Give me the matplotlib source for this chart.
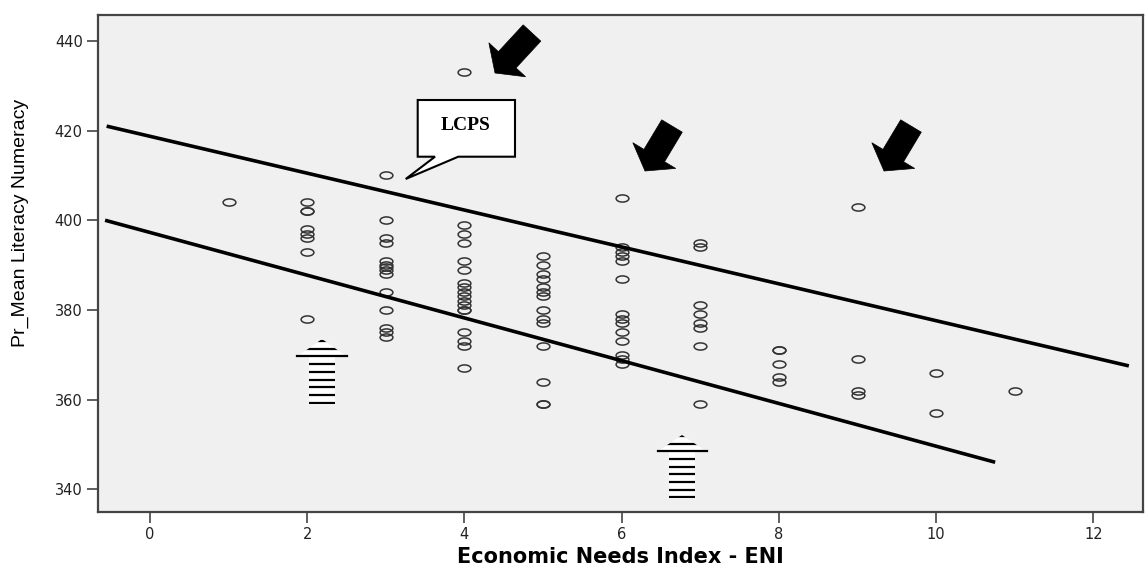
import matplotlib
matplotlib.use("Agg")
import matplotlib.pyplot as plt
import numpy as np
from matplotlib.path import Path
from matplotlib.transforms import Affine2D
from matplotlib.patches import Polygon
from matplotlib.lines import Line2D

# ---------------- data ----------------
eni = ([1]
       + [2] * 8
       + [3] * 14
       + [4] * 18
       + [5] * 14
       + [6] * 14
       + [7] * 8
       + [8] * 5
       + [9] * 4
       + [10] * 2
       + [11])
literacy = [404,
            404, 402, 402, 398, 397, 396, 393, 378,
            410, 400, 396, 395, 391, 390, 389.5, 389, 388, 384, 380, 376, 375, 374,
            433, 399, 397, 395, 391, 389, 386, 385, 384, 383, 382, 381, 380, 380, 375, 373, 372, 367,
            392, 390, 388, 387, 385, 384, 383, 380, 378, 377, 372, 364, 359, 359,
            405, 394, 393, 392, 391, 387, 379, 378, 377, 375, 373, 370, 369, 368,
            395, 394, 381, 379, 377, 376, 372, 359,
            371, 371, 368, 365, 364,
            403, 369, 362, 361,
            366, 357,
            362]

upper_line_x = [-0.55, 12.45]
upper_line_y = [421.0, 367.5]
lower_line_x = [-0.57, 10.75]
lower_line_y = [400.0, 346.0]

x_ticks = [0, 2, 4, 6, 8, 10, 12]
y_ticks = [340, 360, 380, 400, 420, 440]
x_label = "Economic Needs Index - ENI"
y_label = "Pr_Mean Literacy Numeracy"
callout_text = "LCPS"

# ---------------- figure ----------------
W, H = 1148, 568
fig = plt.figure(figsize=(W / 100, H / 100), dpi=100)
fig.patch.set_facecolor("white")
ax = fig.add_axes([98 / W, (H - 512) / H, (1143 - 98) / W, (512 - 15) / H])
ax.set_facecolor("#f0f0f0")

ell = Path.unit_circle().transformed(Affine2D().scale(1.0, 0.56))
ax.plot(eni, literacy, linestyle="none", marker=ell, markersize=9.2,
        markerfacecolor="none", markeredgecolor="#333333", markeredgewidth=1.1,
        zorder=3)

ax.plot(upper_line_x, upper_line_y, color="black", lw=2.6, solid_capstyle="butt", zorder=4)
ax.plot(lower_line_x, lower_line_y, color="black", lw=2.6, solid_capstyle="butt", zorder=4)

ax.set_xlim(-0.66, 12.63)
ax.set_ylim(334.9, 445.8)
ax.set_xticks(x_ticks)
ax.set_yticks(y_ticks)
ax.tick_params(direction="out", length=8, width=1.2, color="#444444",
               labelsize=10.5, labelcolor="#222222", pad=3)
for s in ax.spines.values():
    s.set_color("#444444")
    s.set_linewidth(1.6)

fig.text(620 / W, 1 - 557 / H, x_label, ha="center", va="center",
         fontsize=15, fontweight="bold", family=["DejaVu Sans"])
fig.text(20 / W, 1 - 223 / H, y_label, ha="center", va="center", rotation=90,
         fontsize=14, family=["Liberation Sans Narrow", "Liberation Sans", "DejaVu Sans"])


def P(x, y):
    return (x / W, 1 - y / H)


# black block arrows pointing down-left
def block_arrow(tail, tip, tw, hw, hl):
    t = np.array(tail, float)
    p = np.array(tip, float)
    u = (p - t) / np.linalg.norm(p - t)
    n = np.array([-u[1], u[0]])
    b = p - u * hl
    pts = [t + n * tw / 2, b + n * tw / 2, b + n * hw / 2, p,
           b - n * hw / 2, b - n * tw / 2, t - n * tw / 2]
    poly = Polygon([P(*q) for q in pts], closed=True, transform=fig.transFigure,
                   facecolor="black", edgecolor="black", lw=0.5, zorder=10)
    fig.add_artist(poly)


block_arrow((532, 33), (495, 73), 24, 50, 18)
block_arrow((672, 126), (645, 171), 24, 50, 18)
block_arrow((911, 126), (884, 171), 24, 50, 18)


# striped hollow up arrows
def striped_arrow(tx, ty, hb, hhw, shw, yb):
    pts = [(tx, ty), (tx + hhw, hb), (tx + shw, hb), (tx + shw, yb),
           (tx - shw, yb), (tx - shw, hb), (tx - hhw, hb)]
    poly = Polygon([P(*q) for q in pts], closed=True, transform=fig.transFigure,
                   facecolor="white", edgecolor="none", zorder=10)
    fig.add_artist(poly)
    # head-base stripe spans the full head width
    base = Line2D([(tx - hhw) / W, (tx + hhw) / W], [1 - (hb - 0.8) / H, 1 - (hb - 0.8) / H],
                  transform=fig.transFigure, color="black", lw=1.6, zorder=11)
    fig.add_artist(base)
    for k in [-2, -1, 1, 2, 3, 4, 5, 6]:
        yy = hb + k * 7.65
        if yy > yb:
            break
        ln = Line2D([(tx - hhw - 2) / W, (tx + hhw + 2) / W], [1 - yy / H, 1 - yy / H],
                    transform=fig.transFigure, color="black", lw=1.6, zorder=11)
        ln.set_clip_path(poly)
        fig.add_artist(ln)


striped_arrow(322, 339, 356.7, 25, 13, 404)
striped_arrow(682, 435, 451.5, 24.5, 13, 498)

# LCPS callout
cpts = [(417.7, 100), (515, 100), (515, 156.7), (458.3, 156.7), (405.7, 179),
        (435, 156.7), (417.7, 156.7)]
callout = Polygon([P(*q) for q in cpts], closed=True, transform=fig.transFigure,
                  facecolor="white", edgecolor="black", lw=1.5, zorder=10)
fig.add_artist(callout)
fig.text(466 / W, 1 - 125 / H, callout_text, ha="center", va="center", fontsize=14,
         fontweight="bold", family=["Liberation Serif", "DejaVu Serif"], zorder=12)

fig.savefig("out.png", dpi=100, facecolor="white")
